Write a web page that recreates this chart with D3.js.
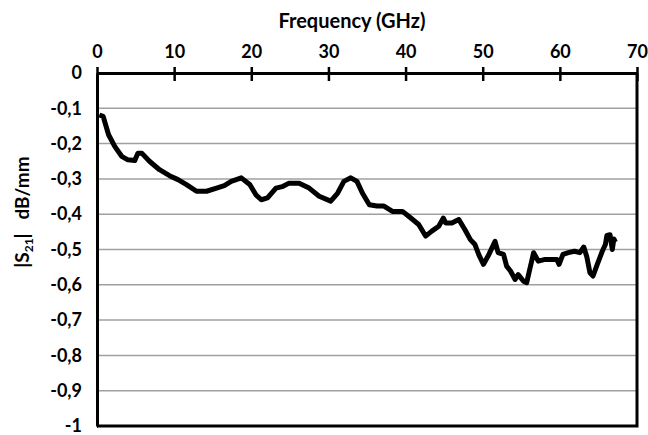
<!DOCTYPE html>
<html>
<head>
<meta charset="utf-8">
<script src="https://cdn.jsdelivr.net/npm/d3@7"></script>
<style>
  body { margin: 0; background: #fff; }
  text { font-family: Lato, "Open Sans", sans-serif; font-weight: bold; fill: #000; }
</style>
</head>
<body>
<div id="chart"></div>
<script>
// frequency in GHz, |S21| in dB/mm
var freq = [0.3, 0.8, 1.5, 2.3, 3.2, 4.0, 4.9, 5.3, 5.8, 6.8, 8.1, 9.4, 10.5, 11.6, 12.9, 14.2,
    15.5, 16.5, 17.4, 18.7, 19.8, 20.6, 21.3, 22.1, 23.2, 24.0, 24.9, 26.2, 27.5, 28.8, 30.3,
    31.2, 32.0, 32.9, 33.7, 34.4, 35.3, 36.3, 37.2, 38.3, 39.6, 40.4, 41.7, 42.6, 43.4, 44.3,
    44.9, 45.2, 46.0, 46.9, 47.7, 48.4, 49.0, 49.5, 50.1, 50.8, 51.6, 52.0, 52.7, 53.1, 53.6,
    54.2, 54.6, 55.3, 55.7, 56.1, 56.6, 57.2, 58.1, 58.9, 59.6, 59.9, 60.4, 61.1, 61.9, 62.6,
    63.1, 63.5, 63.9, 64.3, 64.8, 65.5, 65.9, 66.1, 66.5, 66.8, 67.0, 67.2]
var s21 = [-0.119, -0.123, -0.175, -0.208, -0.236, -0.246, -0.248, -0.227, -0.227, -0.250, -0.274,
    -0.291, -0.302, -0.316, -0.335, -0.335, -0.326, -0.319, -0.307, -0.297, -0.316, -0.345, -0.359,
    -0.354, -0.326, -0.322, -0.312, -0.312, -0.326, -0.349, -0.363, -0.340, -0.307, -0.297, -0.307,
    -0.340, -0.373, -0.377, -0.377, -0.392, -0.392, -0.406, -0.429, -0.462, -0.448, -0.434, -0.411,
    -0.425, -0.425, -0.415, -0.444, -0.472, -0.486, -0.515, -0.542, -0.514, -0.477, -0.509, -0.514,
    -0.547, -0.561, -0.585, -0.571, -0.590, -0.594, -0.556, -0.509, -0.533, -0.528, -0.528, -0.528,
    -0.542, -0.514, -0.509, -0.505, -0.509, -0.493, -0.521, -0.566, -0.575, -0.545, -0.505, -0.486,
    -0.460, -0.458, -0.500, -0.470, -0.479]

var xTicks = [0, 10, 20, 30, 40, 50, 60, 70]
var yTicks = [0, -0.1, -0.2, -0.3, -0.4, -0.5, -0.6, -0.7, -0.8, -0.9, -1]

var width = 648,
    height = 435,
    margin = {top: 73, right: 11, bottom: 9, left: 97}

var svg = d3.select("#chart")
    .append("svg")
    .attr("width", width)
    .attr("height", height)

var x = d3.scaleLinear().domain([0, 70]).range([margin.left, width - margin.right])
var y = d3.scaleLinear().domain([0, -1]).range([margin.top, height - margin.bottom])

var fmt = function(d) { return String(d).replace(".", ",") }

// gridlines
svg.append("g")
    .selectAll("line")
    .data(yTicks.filter(function(d) { return d < 0 && d > -1 }))
    .enter().append("line")
    .attr("x1", x(0))
    .attr("x2", x(70))
    .attr("y1", function(d) { return y(d) })
    .attr("y2", function(d) { return y(d) })
    .attr("stroke", "#a0a0a0")
    .attr("stroke-width", 1.5)

// frame on right and bottom
svg.append("path")
    .attr("d", "M" + x(0) + "," + y(-1) + "H" + x(70) + "V" + y(0))
    .attr("fill", "none")
    .attr("stroke", "#000")
    .attr("stroke-width", 3)

var xAxis = svg.append("g")
    .attr("transform", "translate(0," + y(0) + ")")
    .call(d3.axisTop(x).tickValues(xTicks).tickSize(6).tickSizeOuter(0).tickPadding(9))

xAxis.selectAll(".tick line").attr("y2", 8).attr("y1", -6)

var yAxis = svg.append("g")
    .attr("transform", "translate(" + x(0) + ",0)")
    .call(d3.axisLeft(y).tickValues(yTicks).tickFormat(fmt).tickSize(8).tickSizeOuter(0).tickPadding(7))

yAxis.selectAll(".tick line").attr("x2", 1)

svg.selectAll(".domain").attr("stroke-width", 3)
svg.selectAll(".tick line").attr("stroke-width", 2.5)
svg.selectAll(".tick text").style("font-size", "18px")

var line = d3.line()
    .x(function(d, i) { return x(freq[i]) })
    .y(function(d) { return y(d) })

svg.append("path")
    .datum(s21)
    .attr("d", line)
    .attr("fill", "none")
    .attr("stroke", "#000")
    .attr("stroke-width", 5)
    .attr("stroke-linejoin", "round")

svg.append("text")
    .attr("x", 352)
    .attr("y", 28)
    .attr("text-anchor", "middle")
    .style("font-size", "20px")
    .text("Frequency (GHz)")

var ylab = svg.append("text")
    .attr("transform", "translate(29,212) rotate(-90)")
    .attr("text-anchor", "middle")
    .style("font-size", "19px")
    .attr("xml:space", "preserve")

ylab.append("tspan").text("|S")
ylab.append("tspan").attr("dy", 4).style("font-size", "12px").text("21")
ylab.append("tspan").attr("dy", -4).text("|   dB/mm")
</script>
</body>
</html>
